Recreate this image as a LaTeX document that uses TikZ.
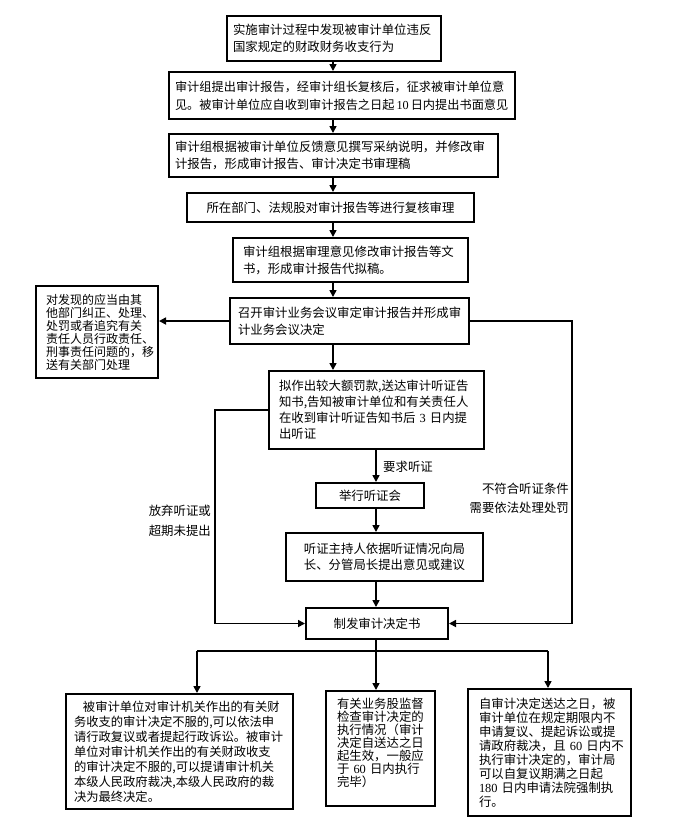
\documentclass[tikz,border=0pt]{standalone}
\usepackage{fontspec}
\setmainfont{Noto Sans CJK SC}
\newfontfamily\numf{Liberation Serif}
\usetikzlibrary{arrows.meta}
\begin{document}
\begin{tikzpicture}[x=1pt,y=-1pt,
 box/.style={draw, line width=2pt, inner ysep=0pt, anchor=north west, align=left},
 arr/.style={line width=1.6pt, -{Triangle[length=7pt,width=7pt]}},
 ln/.style={line width=1.6pt},
 lbl/.style={inner sep=0pt}]
\useasboundingbox[fill=white] (0,0) rectangle (673,831);
% boxes
\node[box, minimum width=214pt, minimum height=45pt, inner xsep=6pt, text width=202pt,
  font=\fontsize{12.4}{17}\selectfont] (b1) at (226,15)
  {实施审计过程中发现被审计单位违反\\国家规定的财政财务收支行为};
\node[box, minimum width=346pt, minimum height=47pt, inner xsep=6pt, text width=334pt,
  font=\fontsize{12.2}{18}\selectfont] (b2) at (168,71)
  {审计组提出审计报告，经审计组长复核后，征求被审计单位意\\见。被审计单位应自收到审计报告之日起\hspace{2pt}{\numf 10}\hspace{2pt}日内提出书面意见};
\node[box, minimum width=329pt, minimum height=43pt, inner xsep=6pt, text width=317pt,
  font=\fontsize{12.4}{17}\selectfont] (b3) at (168,133)
  {审计组根据被审计单位反馈意见撰写采纳说明，并修改审\\计报告，形成审计报告、审计决定书审理稿};
\node[box, minimum width=287pt, minimum height=29pt, inner xsep=7pt, text width=273pt, align=center,
  font=\fontsize{12.4}{17}\selectfont] (b4) at (186,192)
  {所在部门、法规股对审计报告等进行复核审理};
\node[box, minimum width=235pt, minimum height=44pt, inner xsep=10pt, text width=215pt,
  font=\fontsize{12.4}{17}\selectfont] (b5) at (232,237)
  {审计组根据审理意见修改审计报告等文\\书，形成审计报告代拟稿。};
\node[box, minimum width=239pt, minimum height=46pt, inner xsep=8pt, text width=223pt,
  font=\fontsize{12.4}{17}\selectfont] (b6) at (229,297)
  {召开审计业务会议审定审计报告并形成审\\计业务会议决定};
\node[box, minimum width=122pt, minimum height=92pt, inner xsep=10pt, text width=102pt,
  font=\fontsize{12}{13}\selectfont] (lf) at (35,285)
  {对发现的应当由其\\他部门纠正、处理、\\处罚或者追究有关\\责任人员行政责任、\\刑事责任问题的，移\\送有关部门处理};
\node[box, minimum width=215pt, minimum height=78pt, inner xsep=10pt, text width=195pt,
  font=\fontsize{12.4}{16}\selectfont] (b7) at (268,370)
  {拟作出较大额罚款,送达审计听证告\\知书,告知被审计单位和有关责任人\\在收到审计听证告知书后~{\numf 3}~日内提\\出听证};
\node[box, minimum width=108pt, minimum height=25pt, inner xsep=5pt, text width=98pt, align=center,
  font=\fontsize{12.4}{15}\selectfont] (b8) at (315,482)
  {举行听证会};
\node[box, minimum width=197pt, minimum height=48pt, inner xsep=8pt, text width=181pt, align=center,
  font=\fontsize{12.4}{16}\selectfont] (b9) at (285,532)
  {听证主持人依据听证情况向局\\长、分管局长提出意见或建议};
\node[box, minimum width=142pt, minimum height=31pt, inner xsep=5pt, text width=132pt, align=center,
  font=\fontsize{12.4}{15}\selectfont] (b10) at (305,607)
  {制发审计决定书};
\node[box, minimum width=227pt, minimum height=115pt, inner xsep=8pt, text width=211pt,
  font=\fontsize{12.3}{15}\selectfont] (lb) at (65,693)
  {\hspace*{9pt}被审计单位对审计机关作出的有关财\\务收支的审计决定不服的,可以依法申\\请行政复议或者提起行政诉讼。被审计\\单位对审计机关作出的有关财政收支\\的审计决定不服的,可以提请审计机关\\本级人民政府裁决,本级人民政府的裁\\决为最终决定。};
\node[box, minimum width=109pt, minimum height=115pt, inner xsep=11pt, text width=87pt,
  font=\fontsize{12.4}{13}\selectfont] (mb) at (325,690)
  {有关业务股监督\\检查审计决定的\\执行情况（审计\\决定自送达之日\\起生效，一般应\\于~{\numf 60}~日内执行\\完毕）\\~};
\node[box, minimum width=163pt, minimum height=127pt, inner xsep=11pt, text width=141pt,
  font=\fontsize{12.4}{14}\selectfont] (rb) at (467,688)
  {自审计决定送达之日，被\\审计单位在规定期限内不\\申请复议、提起诉讼或提\\请政府裁决，且~{\numf 60}~日内不\\执行审计决定的，审计局\\可以自复议期满之日起\\{\numf 180}~日内申请法院强制执\\行。};
% guide coordinates
\coordinate (sp) at (333,0);
\coordinate (sp2) at (376,0);
\coordinate (L) at (215,0);
\coordinate (R) at (572,0);
\coordinate (bm) at (376,651);
\coordinate (bl) at (197,651);
\coordinate (br) at (548,651);
% main spine
\draw[arr] (b1.south -| sp) -- (b2.north -| sp);
\draw[arr] (b2.south -| sp) -- (b3.north -| sp);
\draw[arr] (b3.south -| sp) -- (b4.north -| sp);
\draw[arr] (b4.south -| sp) -- (b5.north -| sp);
\draw[arr] (b5.south -| sp) -- (b6.north -| sp);
\draw[arr] (b6.south -| sp) -- (b7.north -| sp);
\draw[arr] (b6.west) -- (b6.west -| lf.east);
\draw[arr] (b7.south -| sp2) -- (b8.north -| sp2);
\draw[arr] (b8.south -| sp2) -- (b9.north -| sp2);
\draw[arr] (b9.south -| sp2) -- (b10.north -| sp2);
% side routes
\draw[arr] (b7.west) -- (b7.west -| L) -- (L |- b10.west) -- (b10.west);
\draw[arr] (b6.east) -- (b6.east -| R) -- (R |- b10.east) -- (b10.east);
% bottom fan
\draw[ln] (b10.south -| bm) -- (bm);
\draw[ln] (bl) -- (br);
\draw[arr] (bm) -- (bm |- mb.north);
\draw[arr] (bl) -- (bl |- lb.north);
\draw[arr] (br) -- (br |- rb.north);
% labels
\node[lbl, anchor=west, font=\fontsize{12.4}{15}\selectfont] (q1) at (383,467) {要求听证};
\node[lbl, anchor=east, align=right, font=\fontsize{12.4}{20}\selectfont] (q2) at (211,521) {放弃听证或\\超期未提出};
\node[lbl, anchor=east, align=right, font=\fontsize{12.4}{19}\selectfont] (q3) at (569,498) {不符合听证条件\\需要依法处理处罚};
\end{tikzpicture}
\end{document}
